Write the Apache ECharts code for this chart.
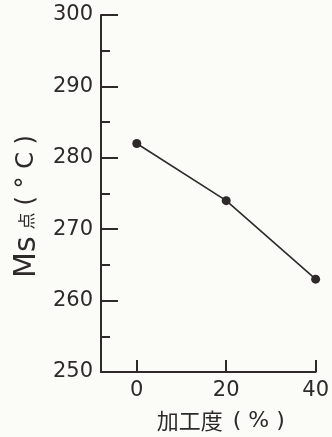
<!DOCTYPE html>
<html><head><meta charset="utf-8">
<script src="https://cdn.jsdelivr.net/npm/echarts@6/dist/echarts.min.js"></script>
<style>html,body{margin:0;padding:0;background:#fbfbf8;}#c{width:332px;height:437px;}</style>
</head><body><div id="c"></div>
<script>
const workRate = [0, 20, 40];
const msPoint = [282, 274, 263];
const xTicks = [0, 20, 40];
const yNameParts = ['Ms', '点', '( ° C )'];
const xNameParts = ['加工度', '( % )'];

const ink = '#2e2a2a';
const chart = echarts.init(document.getElementById('c'));
chart.setOption({
  backgroundColor: '#fbfbf8',
  animation: false,
  grid: {left: 101, right: 14, top: 15, bottom: 62},
  xAxis: {
    type: 'value', min: -8, max: 40,
    name: '{k|' + xNameParts[0] + '}{p|' + xNameParts[1] + '}',
    nameLocation: 'middle', nameGap: 38,
    nameTextStyle: {
      color: ink, padding: [0, 0, 0, 25],
      rich: {
        k: {fontSize: 22, fontFamily: 'Noto Sans CJK JP', color: ink},
        p: {fontSize: 22, fontFamily: 'DejaVu Sans', color: ink, padding: [0, 0, 0, 10]}
      }
    },
    axisLine: {onZero: false, lineStyle: {color: ink, width: 2}},
    axisTick: {show: true, inside: true, length: 12, customValues: xTicks, lineStyle: {color: ink, width: 2}},
    axisLabel: {customValues: xTicks, color: ink, fontSize: 21, fontFamily: 'DejaVu Sans', margin: 8},
    splitLine: {show: false}
  },
  yAxis: {
    type: 'value', min: 250, max: 300, interval: 10,
    name: '{m|' + yNameParts[0] + '}{k|' + yNameParts[1] + '}{p|' + yNameParts[2] + '}',
    nameLocation: 'middle', nameGap: 57,
    nameTextStyle: {
      color: ink, padding: [0, 0, 0, -26],
      rich: {
        m: {fontSize: 30, fontFamily: 'DejaVu Sans', color: ink},
        k: {fontSize: 17, fontFamily: 'Noto Sans CJK JP', color: ink, padding: [0, 7, 0, 7]},
        p: {fontSize: 24, fontFamily: 'DejaVu Sans', color: ink}
      }
    },
    axisLine: {show: true, onZero: false, lineStyle: {color: ink, width: 2}},
    axisTick: {show: true, inside: true, length: 17, lineStyle: {color: ink, width: 2}},
    minorTick: {show: true, splitNumber: 2, length: 9, lineStyle: {color: ink, width: 2}},
    axisLabel: {color: ink, fontSize: 21, fontFamily: 'DejaVu Sans', margin: 8},
    splitLine: {show: false}
  },
  series: [{
    type: 'line',
    data: workRate.map((x, i) => [x, msPoint[i]]),
    symbol: 'circle', symbolSize: 9,
    itemStyle: {color: ink},
    lineStyle: {color: ink, width: 1.6}
  }]
});
</script></body></html>
